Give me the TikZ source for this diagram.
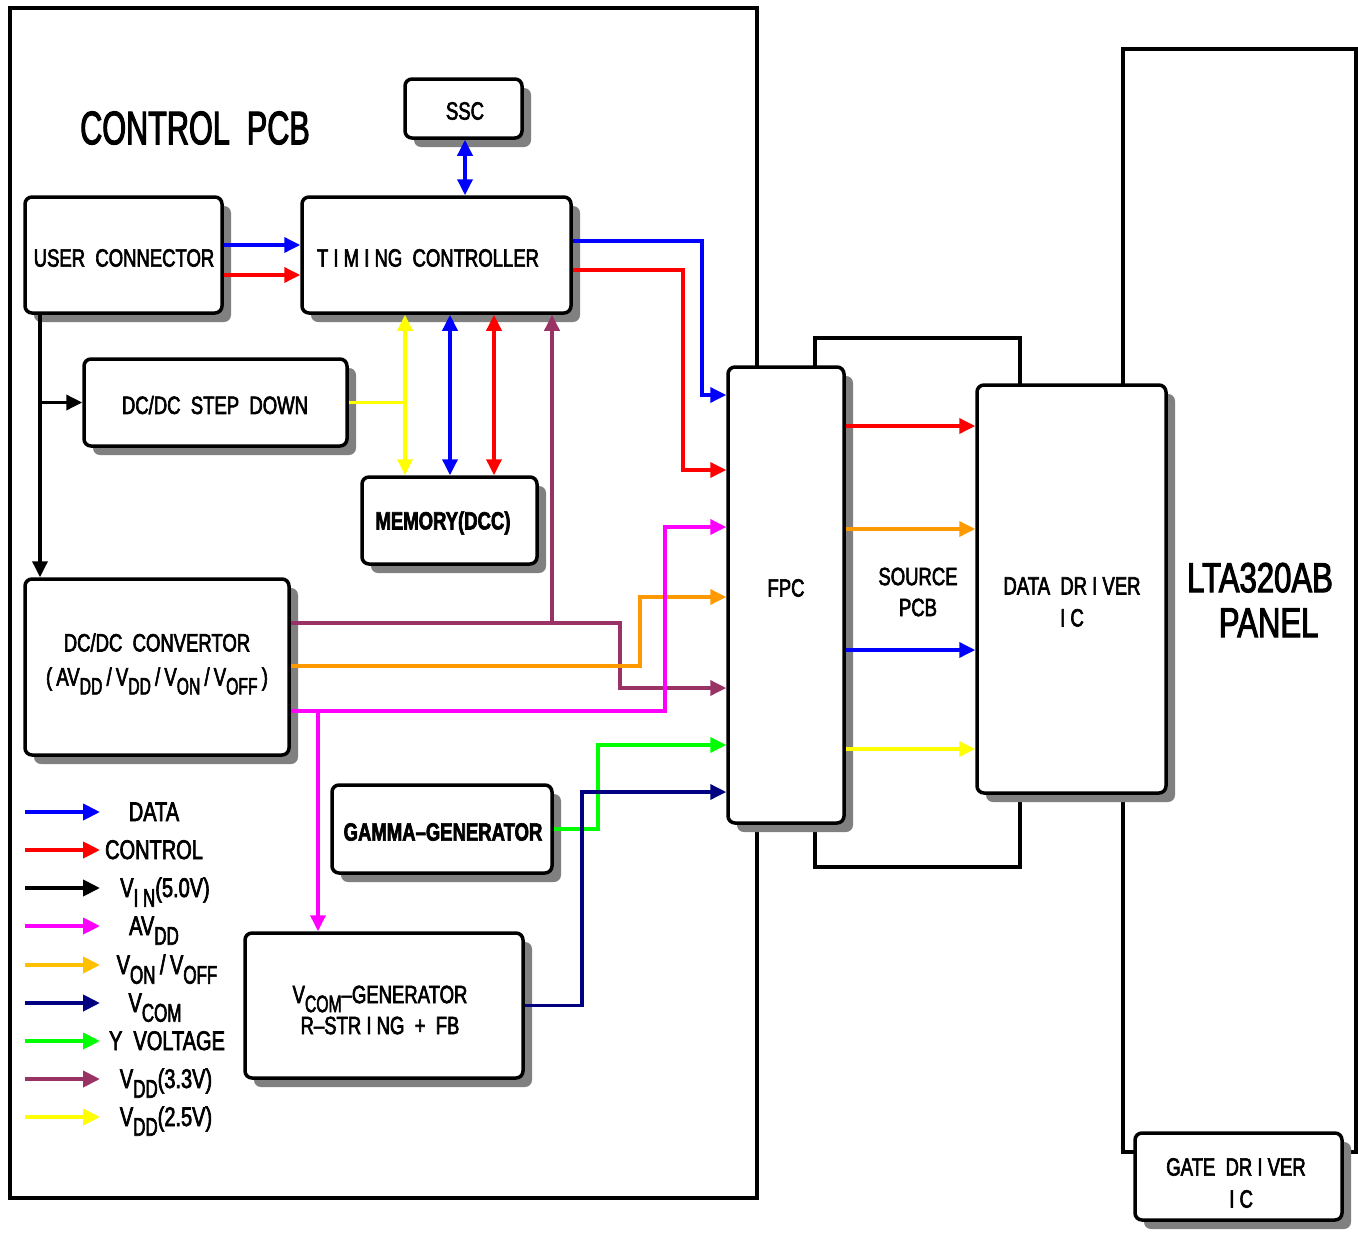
\documentclass[tikz,border=0pt]{standalone}
\usepackage{fontspec}
\usepackage{graphicx}
\setmainfont{Liberation Sans}[FakeStretch=0.74, FakeBold=2.5]
\usetikzlibrary{arrows.meta,shadows}
\definecolor{dblue}{RGB}{0,0,255}
\definecolor{dred}{RGB}{255,0,0}
\definecolor{dmag}{RGB}{255,0,255}
\definecolor{dorange}{RGB}{255,153,0}
\definecolor{lorange}{RGB}{255,192,0}
\definecolor{dnavy}{RGB}{0,0,128}
\definecolor{dgreen}{RGB}{0,255,0}
\definecolor{dpurple}{RGB}{153,51,102}
\definecolor{dyellow}{RGB}{255,255,0}
\definecolor{shadowgray}{RGB}{128,128,128}
\newcommand\sbx[1]{\raisebox{-0.36em}{\scalebox{0.85}[0.95]{#1}}}
\begin{document}
\begin{tikzpicture}[x=1pt,y=-1pt,
  every node/.style={font=\fontsize{25}{31}\selectfont},
  blk/.style={draw, line width=3.5pt, fill=white, rounded corners=7pt, inner sep=0pt, align=center,
    general shadow={fill=shadowgray, shadow xshift=9pt, shadow yshift=-9pt}},
  frame/.style={draw, line width=3.5pt},
  conn/.style={line width=3.5pt},
  tip/.style={-{Triangle[length=16pt,width=15pt]}},
  dtip/.style={{Triangle[length=16pt,width=15pt]}-{Triangle[length=16pt,width=15pt]}},
  lbl/.style={inner sep=0pt, align=center},
  heavy/.style={font=\bfseries\fontsize{25}{31}\selectfont}]
\useasboundingbox (0,0) rectangle (1358,1237);
\fill[white] (0,0) rectangle (1358,1237);

% frames
\draw[frame] (10,8) rectangle (757,1198);
\draw[frame] (815,338) rectangle (1020,867);
\draw[frame] (1123,49) rectangle (1356,1152);

\node[lbl, font=\fontsize{47}{50}\selectfont] (title) at (195,128) {\scalebox{0.88}[1]{CONTROL\ \ PCB}};

% blocks
\node[blk, minimum width=117pt, minimum height=59pt] (ssc) at (463.5,108.5) {};
\node[lbl] (ssct) at (465,111) {SSC};
\node[blk, minimum width=197pt, minimum height=116pt] (uc) at (123.5,255) {};
\node[lbl] (uct) at (124,258) {USER\ \ CONNECTOR};
\node[blk, minimum width=269pt, minimum height=116pt] (tc) at (436.5,255) {};
\node[lbl] (tct) at (428,258) {T I M I NG\ \ CONTROLLER};
\node[blk, minimum width=263pt, minimum height=87pt] (sd) at (215.5,402.5) {};
\node[lbl] (sdt) at (215,405) {DC/DC\ \ STEP\ \ DOWN};
\node[blk, minimum width=175pt, minimum height=87pt] (mem) at (449.5,520.5) {};
\node[lbl, heavy] (memt) at (443,523) {MEMORY(DCC)};
\node[blk, minimum width=264pt, minimum height=176pt] (dcc) at (157,667) {};
\node[lbl, font=\fontsize{25}{34}\selectfont] (dcct) at (157,664)
  {DC/DC\ \ CONVERTOR\\(\,AV\sbx{DD}\,/\,V\sbx{DD}\,/\,V\sbx{ON}\,/\,V\sbx{OFF}\,)};
\node[blk, minimum width=220pt, minimum height=88pt] (gam) at (442,829) {};
\node[lbl, heavy] (gamt) at (443,832) {GAMMA–GENERATOR};
\node[blk, minimum width=278pt, minimum height=145pt] (vcom) at (384,1005.5) {};
\node[lbl] (vcomt) at (380,1010) {V\sbx{COM}–GENERATOR\\R–STR I NG\ \ +\ \ FB};

\node[blk, minimum width=116pt, minimum height=456pt] (fpc) at (786,595) {};
\node[lbl] (fpct) at (786,588) {FPC};
\node[lbl] (spcb) at (918,592) {SOURCE\\PCB};
\node[blk, minimum width=189pt, minimum height=408pt] (ddic) at (1071.5,589) {};
\node[lbl, font=\fontsize{25}{32}\selectfont] (ddict) at (1072,602) {DATA\ \ DR I VER\\I C};
\node[lbl, font=\fontsize{42}{45}\selectfont] (panel) at (1260,600) {LTA320AB\\\ \ PANEL};
\node[blk, minimum width=207pt, minimum height=87pt] (gate) at (1238.5,1176.5) {};
\node[lbl, font=\fontsize{25}{32}\selectfont] (gatet) at (1236,1183) {GATE\ \ DR I VER\\\ \ I C};

% connectors
\draw[conn, dblue, dtip] (ssct |- ssc.south) -- (ssct |- tc.north);
\draw[conn, dblue, tip] ([yshift=10pt]uc.east) -- ([yshift=10pt]tc.west);
\draw[conn, dred, tip] ([yshift=-20pt]uc.east) -- ([yshift=-20pt]tc.west);

\draw[conn, dblue, tip] ([yshift=14pt]tc.east) -- ++(129,0) |- ([yshift=200pt]fpc.west);
\draw[conn, dred, tip] ([yshift=-15pt]tc.east) -- ++(110,0) |- ([yshift=125pt]fpc.west);

\coordinate (yx) at (405,402.5);
\coordinate (bx) at (450,402.5);
\coordinate (rx) at (494,402.5);
\draw[conn, dyellow] (sd.east) -- (yx);
\draw[conn, dyellow, dtip] (yx |- tc.south) -- (yx |- mem.north);
\draw[conn, dblue, dtip] (bx |- tc.south) -- (bx |- mem.north);
\draw[conn, dred, dtip] (rx |- tc.south) -- (rx |- mem.north);

\coordinate (bk) at (40,402.5);
\draw[conn, black, tip] (bk |- uc.south) -- (bk |- dcc.north);
\draw[conn, black, tip] (bk) -- (sd.west);

\coordinate (pj) at (552,623);
\draw[conn, dpurple, tip] ([yshift=44pt]dcc.east) -- ++(329,0) |- ([yshift=-93pt]fpc.west);
\draw[conn, dpurple, tip] (pj) -- (pj |- tc.south);
\draw[conn, dorange, tip] ([yshift=1pt]dcc.east) -- ++(349,0) |- ([yshift=-2pt]fpc.west);
\coordinate (mj) at (318,711);
\draw[conn, dmag, tip] ([yshift=-44pt]dcc.east) -- ++(374,0) |- ([yshift=68pt]fpc.west);
\draw[conn, dmag, tip] (mj) -- (mj |- vcom.north);
\draw[conn, dgreen, tip] (gam.east) -- ++(44,0) |- ([yshift=-150pt]fpc.west);
\draw[conn, dnavy, tip] (vcom.east) -- ++(57,0) |- ([yshift=-197pt]fpc.west);

\draw[conn, dred, tip] ([yshift=169pt]fpc.east) -- ([yshift=163pt]ddic.west);
\draw[conn, dorange, tip] ([yshift=66pt]fpc.east) -- ([yshift=60pt]ddic.west);
\draw[conn, dblue, tip] ([yshift=-55pt]fpc.east) -- ([yshift=-61pt]ddic.west);
\draw[conn, dyellow, tip] ([yshift=-154pt]fpc.east) -- ([yshift=-160pt]ddic.west);

% legend
\foreach \c/\y/\lx/\lab in {
  dblue/812/154/{DATA},
  dred/850/154/{CONTROL},
  black/888/165/{V\sbx{I N}(5.0V)},
  dmag/926/154/{AV\sbx{DD}},
  lorange/965/167/{V\sbx{ON}\,/\,V\sbx{OFF}},
  dnavy/1003/155/{V\sbx{COM}},
  dgreen/1041/167/{Y\ \ VOLTAGE},
  dpurple/1079/166/{V\sbx{DD}(3.3V)},
  dyellow/1117/166/{V\sbx{DD}(2.5V)}} {
  \coordinate (ls\y) at (25,\y);
  \coordinate (le\y) at (100,\y);
  \draw[line width=4pt, \c, -{Triangle[length=17pt,width=16pt]}] (ls\y) -- (le\y);
  \node[lbl, anchor=base, font=\fontsize{27}{31}\selectfont] (lt\y) at (\lx,\y+9) {\lab};
}
\end{tikzpicture}
\end{document}
